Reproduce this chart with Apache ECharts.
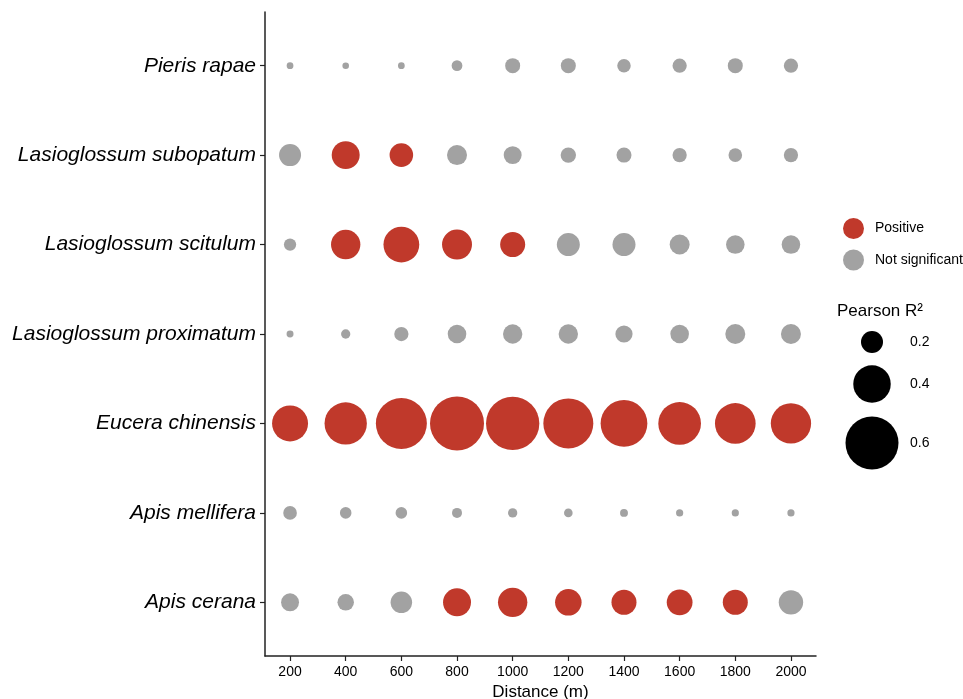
<!DOCTYPE html>
<html>
<head>
<meta charset="utf-8">
<script src="https://cdn.jsdelivr.net/npm/echarts@6/dist/echarts.min.js"></script>
<style>html,body{margin:0;padding:0;background:#fff;}#c{width:963px;height:699px;}</style>
</head>
<body>
<div id="c"></div>
<script>
// ---- data (bottom to top on the y axis) ----
const distances = [200, 400, 600, 800, 1000, 1200, 1400, 1600, 1800, 2000];
const distanceLabels = ['200', '400', '600', '800', '1000', '1200', '1400', '1600', '1800', '2000'];
const species = ['Apis cerana', 'Apis mellifera', 'Eucera chinensis', 'Lasioglossum proximatum',
                 'Lasioglossum scitulum', 'Lasioglossum subopatum', 'Pieris rapae'];

// Pearson R² per distance
const r2ApisCerana     = [0.148, 0.129, 0.194, 0.277, 0.295, 0.258, 0.239, 0.249, 0.239, 0.231];
const r2ApisMellifera  = [0.092, 0.065, 0.065, 0.045, 0.036, 0.027, 0.018, 0.009, 0.009, 0.009];
const r2Eucera         = [0.380, 0.462, 0.574, 0.613, 0.604, 0.561, 0.519, 0.467, 0.441, 0.436];
const r2LProximatum    = [0.006, 0.036, 0.100, 0.156, 0.166, 0.166, 0.138, 0.156, 0.174, 0.174];
const r2LScitulum      = [0.074, 0.295, 0.378, 0.303, 0.239, 0.213, 0.213, 0.174, 0.156, 0.156];
const r2LSubopatum     = [0.200, 0.277, 0.220, 0.174, 0.148, 0.115, 0.110, 0.100, 0.092, 0.100];
const r2Pieris         = [0.003, 0.001, 0.003, 0.055, 0.110, 0.110, 0.090, 0.100, 0.110, 0.100];

// 1 = Positive, 0 = Not significant
const sigApisCerana    = [0, 0, 0, 1, 1, 1, 1, 1, 1, 0];
const sigApisMellifera = [0, 0, 0, 0, 0, 0, 0, 0, 0, 0];
const sigEucera        = [1, 1, 1, 1, 1, 1, 1, 1, 1, 1];
const sigLProximatum   = [0, 0, 0, 0, 0, 0, 0, 0, 0, 0];
const sigLScitulum     = [0, 1, 1, 1, 1, 0, 0, 0, 0, 0];
const sigLSubopatum    = [0, 1, 1, 0, 0, 0, 0, 0, 0, 0];
const sigPieris        = [0, 0, 0, 0, 0, 0, 0, 0, 0, 0];

const sizeKeys = [0.2, 0.4, 0.6];
const sizeKeyLabels = ['0.2', '0.4', '0.6'];

// ---- build ----
const r2Rows  = [r2ApisCerana, r2ApisMellifera, r2Eucera, r2LProximatum, r2LScitulum, r2LSubopatum, r2Pieris];
const sigRows = [sigApisCerana, sigApisMellifera, sigEucera, sigLProximatum, sigLScitulum, sigLSubopatum, sigPieris];
const posData = [], nsData = [];
r2Rows.forEach((row, yi) => {
  row.forEach((v, xi) => {
    (sigRows[yi][xi] ? posData : nsData).push([distances[xi], yi, v]);
  });
});

const RED = '#c0392b', GRAY = '#a2a2a2';
const FONT = '"Liberation Sans", Arial, Helvetica, sans-serif';
const sizeOf = v => 6.5 + 77.5 * v;

const chart = echarts.init(document.getElementById('c'));
const keyY = [342, 384, 443];
const graphics = [];
sizeKeys.forEach((k, i) => {
  graphics.push({ type: 'circle', shape: { cx: 872, cy: keyY[i], r: sizeOf(k) / 2 }, style: { fill: '#000' } });
  graphics.push({ type: 'text', x: 910, y: keyY[i], style: { text: sizeKeyLabels[i], fill: '#000', font: '14px ' + FONT, textVerticalAlign: 'middle' } });
});
graphics.push({ type: 'text', x: 837, y: 311, style: { text: 'Pearson R²', fill: '#000', font: '17px ' + FONT, textVerticalAlign: 'middle' } });

chart.setOption({
  backgroundColor: '#fff',
  animation: false,
  grid: { left: 265, right: 147, top: 12, bottom: 43, containLabel: false, outerBoundsMode: 'none' },
  xAxis: {
    type: 'value', min: 110, max: 2090,
    name: 'Distance (m)', nameLocation: 'middle', nameGap: 18,
    nameTextStyle: { color: '#000', fontSize: 17, fontFamily: FONT },
    axisLine: { show: true, onZero: false, lineStyle: { color: '#222', width: 1.5 } },
    axisTick: { show: true, length: 5, customValues: distances, lineStyle: { color: '#222', width: 1.2 } },
    axisLabel: { customValues: distances, formatter: v => distanceLabels[distances.indexOf(v)],
                 color: '#000', fontSize: 14, fontFamily: FONT, margin: 9 },
    splitLine: { show: false }
  },
  yAxis: {
    type: 'value', min: -0.6, max: 6.6,
    axisLine: { show: true, onZero: false, lineStyle: { color: '#222', width: 1.5 } },
    axisTick: { show: true, length: 5, customValues: species.map((s, i) => i), lineStyle: { color: '#222', width: 1.2 } },
    axisLabel: { customValues: species.map((s, i) => i), formatter: v => species[Math.round(v)],
                 color: '#000', fontSize: 21, fontStyle: 'italic', fontFamily: FONT, margin: 9 },
    splitLine: { show: false }
  },
  legend: {
    data: ['Positive', 'Not significant'], orient: 'vertical', left: 838, top: 213,
    itemWidth: 21, itemHeight: 21, itemGap: 10.5, icon: 'circle',
    textStyle: { color: '#000', fontSize: 14, fontFamily: FONT, padding: [0, 0, 0, 6] }
  },
  series: [
    { name: 'Positive', type: 'scatter', data: posData, symbolSize: v => sizeOf(v[2]),
      itemStyle: { color: RED, opacity: 1 }, clip: false },
    { name: 'Not significant', type: 'scatter', data: nsData, symbolSize: v => sizeOf(v[2]),
      itemStyle: { color: GRAY, opacity: 1 }, clip: false }
  ],
  graphic: graphics
});
</script>
</body>
</html>
